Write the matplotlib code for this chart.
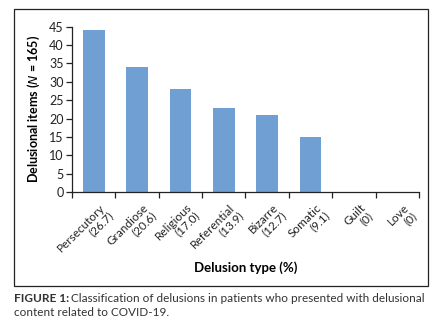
import matplotlib
matplotlib.use("Agg")
import matplotlib.pyplot as plt
from matplotlib.patches import Rectangle
from matplotlib.ticker import MultipleLocator, FixedLocator
import numpy as np

categories = ["Persecutory", "Grandiose", "Religious", "Referential", "Bizarre", "Somatic", "Guilt", "Love"]
percents = ["(26.7)", "(20.6)", "(17.0)", "(13.9)", "(12.7)", "(9.1)", "(0)", "(0)"]
counts = [44, 34, 28, 23, 21, 15, 0, 0]

plt.rcParams['font.family'] = ['Lato', 'DejaVu Sans']
W, H = 441, 328
fig = plt.figure(figsize=(W/100, H/100), dpi=100)

# outer frame
fig.patches.append(Rectangle((14/W, 1-286/H), (428-14)/W, (286-9)/H, transform=fig.transFigure,
                             fill=False, edgecolor='#222222', linewidth=0.9))

ax = fig.add_axes([72/W, 1-192/H, (419-72)/W, (192-26.7)/H])
x = np.arange(len(categories))
ax.bar(x, counts, width=0.5, color='#6f9fd3', zorder=2)
ax.set_xlim(-0.5, len(categories)-0.5)
ax.set_ylim(0, 45)
ax.yaxis.set_major_locator(MultipleLocator(5))
for s in ['top', 'right']:
    ax.spines[s].set_visible(False)
for s in ['left', 'bottom']:
    ax.spines[s].set_linewidth(0.9)
    ax.spines[s].set_color('#222222')
ax.tick_params(axis='y', direction='out', length=4, width=0.9, labelsize=9, pad=2, colors='#222222')
ax.set_xticks(x)
ax.set_xticklabels([])
ax.tick_params(axis='x', which='major', length=0)
ax.xaxis.set_minor_locator(FixedLocator(np.arange(len(categories)+1)-0.5))
ax.tick_params(axis='x', which='minor', direction='out', length=4, width=0.9, colors='#222222')

for i, (c, p) in enumerate(zip(categories, percents)):
    ax.annotate(c + "\n" + p, xy=(i, 0), xycoords='data', xytext=(4, -7), textcoords='offset points',
                rotation=45, rotation_mode='anchor', ha='right', va='top', multialignment='right',
                fontsize=8.5, linespacing=1.05, color='#222222')

ax.set_ylabel("Delusional items ($\\mathit{N}$ = 165)", fontsize=9, fontweight='bold', labelpad=5)
fig.text((72+419)/2/W, 1-268/H, "Delusion type (%)", ha='center', va='center', fontsize=9.5, fontweight='bold')

# caption
t1 = fig.text(14/W, 1-299/H, "FIGURE 1:", ha='left', va='center', fontsize=8.5, fontweight='bold', color='#333333')
fig.canvas.draw()
bb = t1.get_window_extent()
fig.text(bb.x1/W + 2/W, 1-299/H, "Classification of delusions in patients who presented with delusional",
         ha='left', va='center', fontsize=8.5, color='#333333')
fig.text(14/W, 1-313/H, "content related to COVID-19.", ha='left', va='center', fontsize=8.5, color='#333333')

fig.savefig("out.png", dpi=100)
